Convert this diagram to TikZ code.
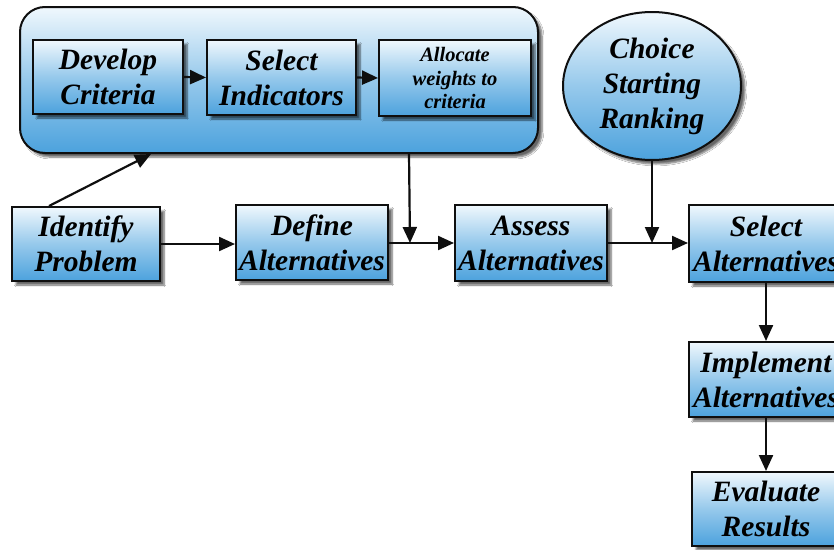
\documentclass[tikz,border=0pt]{standalone}
\usepackage{fontspec}
\setmainfont{Liberation Serif}
\usetikzlibrary{arrows.meta,shapes.geometric,shadows.blur,calc}
\definecolor{shadetop}{RGB}{240,248,253}
\definecolor{shadebot}{RGB}{76,162,221}
\definecolor{edge}{RGB}{15,15,15}
\tikzset{
  boxfill/.style={top color=shadetop, bottom color=shadebot, middle color=shadetop!45!shadebot},
  shade3d/.style={blur shadow={shadow xshift=4pt, shadow yshift=-4pt, shadow blur steps=6, shadow opacity=60}},
  stepbox/.style={draw=edge, line width=2pt, boxfill, shade3d, rectangle, inner sep=0pt,
    align=center, font=\bfseries\itshape\fontsize{29.5}{35}\selectfont},
  smallbox/.style={stepbox, font=\bfseries\itshape\fontsize{20.5}{23.5}\selectfont},
  group/.style={draw=edge, line width=2pt, rounded corners=25pt, boxfill, shade3d},
  oval/.style={ellipse, draw=edge, line width=2pt, boxfill, shade3d, inner sep=0pt,
    align=center, font=\bfseries\itshape\fontsize{29.5}{35}\selectfont},
  flow/.style={line width=2.2pt, draw=edge, -{Triangle[length=16pt,width=14pt]}},
}
\begin{document}
\begin{tikzpicture}[x=1pt,y=-1pt]
\useasboundingbox (0,0) rectangle (834,549);
\clip (0,0) rectangle (834,549);
\fill[white] (0,0) rectangle (834,549);

% criteria group
\node[group, minimum width=518pt, minimum height=146pt] (grp) at (279,80) {};
\node[stepbox, minimum width=150pt, minimum height=74pt] (dev) at (108,77) {Develop\\Criteria};
\node[stepbox, minimum width=149pt, minimum height=75pt] (sel) at (281.5,77.5) {Select\\Indicators};
\node[smallbox, minimum width=152pt, minimum height=76pt] (alloc) at (455,78) {Allocate\\weights to\\criteria};

% ranking oval
\node[oval, minimum width=178pt, minimum height=148pt] (rank) at (652,86) {Choice\\Starting\\Ranking};

% main process
\node[stepbox, minimum width=148pt, minimum height=74pt] (ident) at (86,244) {Identify\\Problem};
\node[stepbox, minimum width=152pt, minimum height=75pt] (def) at (312,242.5) {Define\\Alternatives};
\node[stepbox, minimum width=152pt, minimum height=76pt] (assess) at (531,243) {Assess\\Alternatives};
\node[stepbox, minimum width=154pt, minimum height=77pt] (selalt) at (766,243.5) {Select\\Alternatives};
\node[stepbox, minimum width=154pt, minimum height=75pt] (impl) at (766,379.5) {Implement\\Alternatives};
\node[stepbox, minimum width=148pt, minimum height=74pt] (eval) at (766,509) {Evaluate\\Results};

% junction points on the main line
\coordinate (jA) at (410,243);
\coordinate (jB) at (652,243);
\coordinate (idtop) at ($(ident.north west)+(38,0)$);
\coordinate (grpin) at ($(grp.south west)+(132,0)$);
\coordinate (grpout) at ($(grp.south west)+(390,0)$);

% connectors
\draw[flow] (dev.east) -- (sel.west);
\draw[flow] (sel.east) -- (alloc.west);
\draw[flow] (idtop) -- (grpin);
\draw[flow] (ident.east) -- (def.west |- ident.east);
\draw[flow] (grpout) -- (jA);
\draw[flow] (def.east |- jA) -- (assess.west |- jA);
\draw[flow] (rank.south) -- (jB);
\draw[flow] (assess.east |- jB) -- (selalt.west |- jB);
\draw[flow] (selalt.south) -- (impl.north);
\draw[flow] (impl.south) -- (eval.north -| impl.south);
\end{tikzpicture}
\end{document}
